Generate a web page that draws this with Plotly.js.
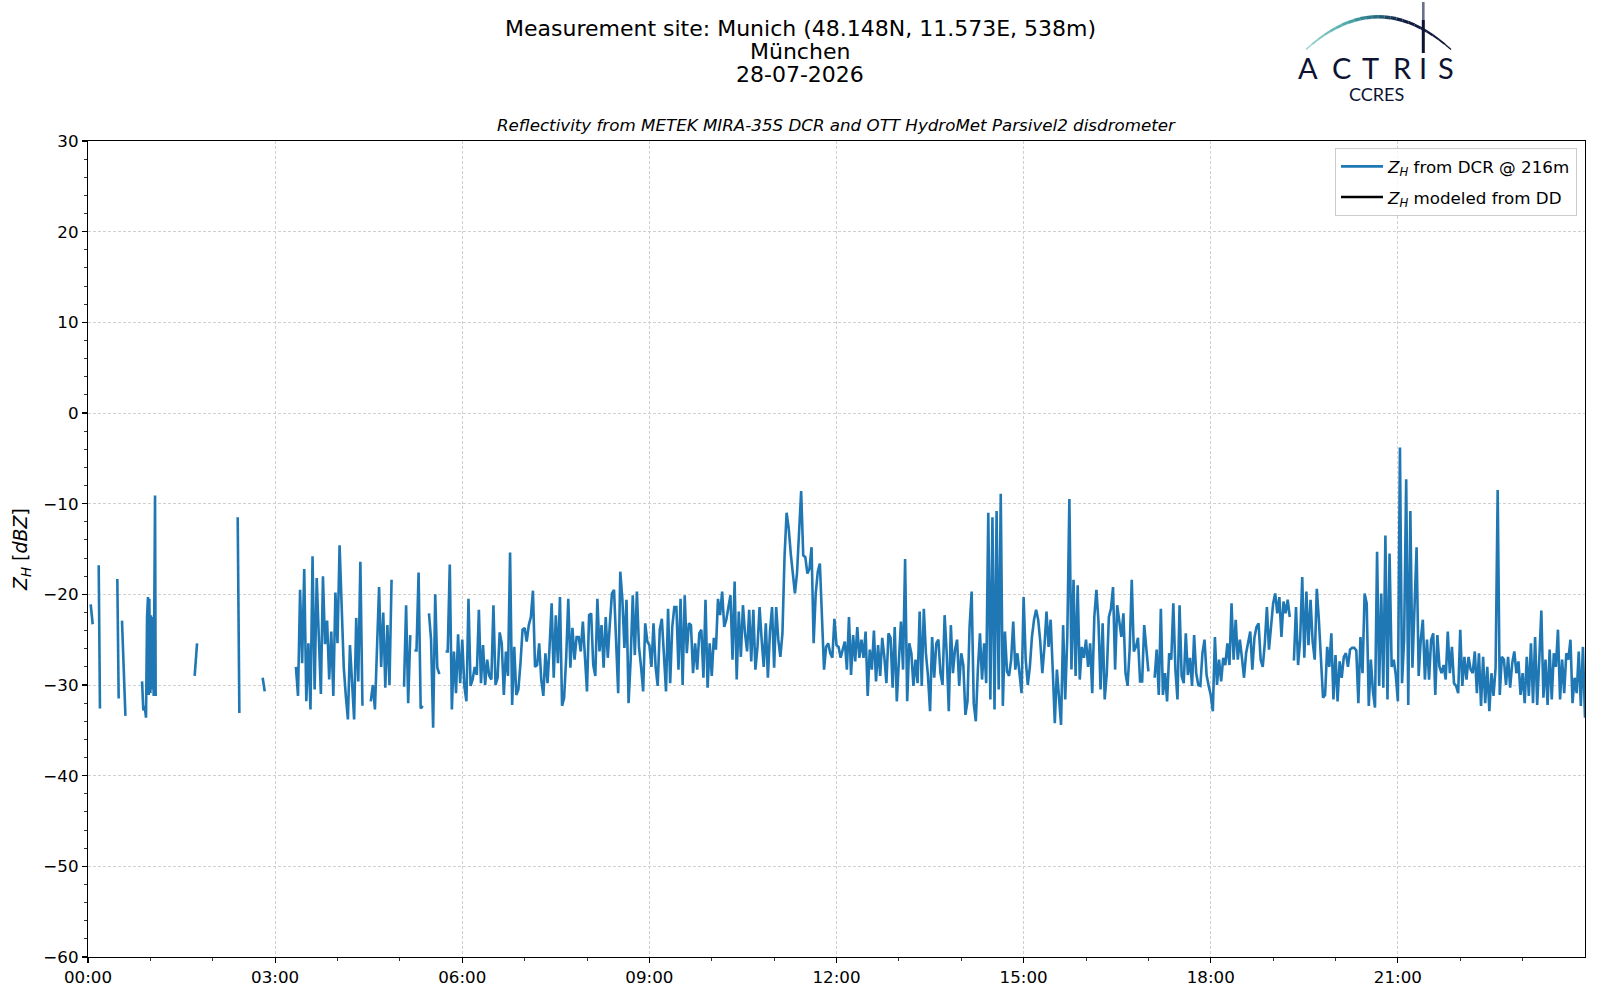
<!DOCTYPE html>
<html><head><meta charset="utf-8">
<script src="https://cdn.plot.ly/plotly-3.0.1.min.js"></script>
<style>html,body{margin:0;padding:0;background:#fff}</style>
</head><body><div id="chart" style="width:1600px;height:1000px"></div>
<script>
// ---- data (minutes of day, reflectivity in dBZ) ----
const earlyMin = [2.6,4.5,7, 10.3,11.5,20, 28.2,29.5,31, 32.7,36,44,
  52,53.2,54.5,55.8,56.8,57.7,58.4,59,60,60.6,61.6,62.2,63.2,64.5,65.1,80,
  102.6,104.9,120, 144,145.6,160, 168,170,185];
const earlyZh = [-21.1,-23.3,null, -16.8,-32.6,null, -18.3,-31.5,null, -22.9,-33.4,null,
  -29.6,-32.8,-32.3,-33.6,-22.5,-20.3,-31.1,-20.5,-30.9,-22.3,-30.5,-22.5,-31.2,-9.1,-31.2,null,
  -29,-25.4,null, -11.5,-33.1,null, -29.2,-30.7,null];

const denseStartMin = 200;
const denseStepMin = 2;
const zh0320 = [-28,-31.2,-19.5,-27.6,-17.2,-31.8,-25.4,-32.7,-15.8,-30.5,
 -18.2,-26,-31,-18,-25.5,-22.9,-29.4,-24.1,-31.2,-19.8,
 -25.4,-14.6,-21.6,-28,-31.2,-33.8,-25.6,-30.1,-33.8,-22.6,
 -29.6,-16.4,-32.3,null,null,null,-31.8,-30,-32.7,-25.5,
 -19.2,-28,-22,-30.3,-23.4,-30,-18.4,null,null,null,
 null,null,-30.2,-21.2,-32,-24.5,null,-26.2,-26.2,-17.6,
 -32.6,-32.3,null,null,-22.1,-25,-34.7,-20,-28.1,-28.8,
 null,null,-26.3,-26.3,-16.7,-32.7,-26.3,-30.9,-24.4,-29.8];
const zh0600 = [-25,-30.1,-31.8,-20.5,-30.1,-29.4,-28,-28.9,-21.7,-29.8,
 -25.6,-30,-27.2,-29,-29.4,-21.2,-30,-29.2,-24.2,-25.4,
 -31.1,-26.3,-29,-15.4,-32.2,-25.8,-31.1,-30.5,-27.6,-23.9,
 -23.7,-25.2,-23.4,-22.5,-19.6,-28,-27.8,-25.4,-29.4,-31.2,
 -26.5,-29.8,-25.8,-21,-29.2,-22.3,-27.6,-20.3,-32.3,-31.4,
 -26.9,-20.5,-28.1,-23.7,-27.2,-24.7,-24.7,-26.3,-23,-26.5,
 -30.7,-22.3,-22.1,-27.8,-29,-20.5,-26.3,-23.4,-28.1,-22.5,
 -27,-23.2,-19.9,-19.5,-26.1,-30.9,-17.5];
const zh0834 = [-20.5,-25.9,-20.6,-32,-27.2,-20.1,-26.7,-19.7,-25.8,-28,
 -30.7,-23.2,-25.2,-25.6,-28,-23.2,-28,-30.1,-23.9,-22.7,
 -26.5,-30.7,-21.6,-29.8,-23.6,-21.4,-21.4,-28.3,-20.5,-30,
 -20.1,-26.5,-23.2,-23.4,-28.7,-25.4,-28.3,-24.3,-23.9,-29.2,
 -20.6,-30.3,-25.4,-29,-24.8,-26.1,-20.5,-22.3,-19.7,-23.6,
 -22.8,-21.5,-20.1,-27.2,-18.6,-29.4,-21.9,-26.9,-21.2,-24.3,
 -26.3,-21.7,-27.4,-21.7,-28.3,-25.8,-21.4,-25,-28,-23.2,
 -29.2,-24.1,-21.4,-28.1,-21.4,-25,-26.9,-24.3];
const zh1110 = [-15.9,-11,-12.7,-15.5,-18.1,-19.9,-17.7,-13,-8.6,-15.7,
 -15.9,-17.7,-17.2,-14.8,-25.4,-19.9,-17.5,-16.6,-22.1,-28.3,
 -25.8,-25.4,-26.5,-27,-22.7,-25.6,-25.8,-27,-26.1,-25.2,
 -28.3,-22.5,-28.9,-24.5,-27.4,-23.6,-27,-25,-27,-24.1,
 -31.2,-26.1,-28.3,-24,-29.6,-25.6,-29,-24.8,-26.9,-29.8,
 -24.3,-24.8,-30.3,-23.6,-31.8,-28,-23,-28.3,-16.1,-31.8,
 -25.4,-26.5,-30.1,-27.2,-29.8,-21.9,-30.1,-21.6,-26.5,-29,
 -32.9,-24.7,-29.2,-25.4,-25,-28.7,-30,-22.3];
const zh1346 = [-26.5,-32.9,-23.4,-28.7,-26.1,-25,-30.1,-26.5,-27.8,-33.3,
 -31.8,-23.6,-19.7,-32,-34,-28.3,-24.3,-29.4,-25.4,-29.8,
 -11,-31.6,-11.5,-32.7,-10.8,-30.5,-8.9,-32.3,-24.1,-28.5,
 -29,-27.2,-23,-28.3,-26.5,-28.7,-30.9,-20.3,-27.2,-30,
 -28,-24.7,-22.8,-21.7,-22.8,-25.2,-28.7,-25.8,-21.9,-25.8,
 -22.8,-28.3,-34.2,-28.3,-31.2,-34.4,-23.4,-31.6,-24.7,-9.5,
 -28.3,-18.4,-29,-19,-29.4,-25.8,-27,-25,-28,-25.4,
 -30.9,-22.5,-19.5,-23,-30.5,-23.2,-31.6,-28.7];
const zh1622 = [-22.5,-21.6,-19.2,-28.3,-21.2,-22.8,-24.7,-22.1,-28.7,-30.1,
 -26.1,-18.4,-26.3,-25.8,-24.8,-29.6,-29.6,-23.4,-26.5,-28.5,
 null,null,-29.2,-26.1,-31.1,-21.6,-31.1,-28.7,-31.8,-26.5,
 -27.2,-21,-28.3,-31.6,-21.2,-29,-29.8,-24.3,-28.9,-27,
 -30.1,-24.5,-28.7,-30,-30.1,-26.5,-25,-28.9,-30.1,-31.1,
 -32.9,-24.7,-30,-27.2,-29.6,-27,-27.8,-25.4,-27.8,-21,
 -27.2,-22.8,-27.2,-25,-27,-29.2,-26.5,-25.2,-24.1,-28.3,
 -24.8,-23.6,-23.2,-27.2,-28,-25.4,-21.4,-26.1];
const zh1858 = [-23,-21,-19.9,-22.1,-20.3,-24.7,-20.8,-22.1,-20.6,-22.5,
 null,-27.3,-21.4,-27.8,-25,-18.1,-27,-19.7,-25.6,-20.6,
 -25.2,-27.2,-19.4,-22.8,-26.7,-31.4,-31.1,-25.8,-28,-24.3,
 -31.6,-26.7,-31.8,-27.4,-29.2,-26.9,-26.5,-28,-26.1,-25.9,
 -25.9,-26.2,-32,-24.7,-28.7,-19.9,-21,-32.3,-27.2,-30.7,
 -32.5,-15.3,-30.1,-19.9,-30.3,-13.5,-31.6,-15.5,-28,-27.2,
 -28.9,-31.8,-3.8,-29.8,-25,-7.3,-32.2,-10.8,-28.1,-21,
 -14.8,-29,-25,-22.8,-29.4,-25,-29.4,-25];
const zh2134 = [-24.3,-31.1,-24.5,-28,-28.7,-27.8,-29.4,-24.1,-28.7,-25.8,
 -29.8,-30.1,-30.9,-23.9,-30.1,-26.9,-29.4,-26.9,-28.3,-28.7,
 -26.3,-30.9,-26.5,-32.3,-26.9,-32,-28,-32.9,-28.7,-31.2,
 -28.1,-8.5,-31.1,-26.9,-27.2,-30,-26.9,-30.3,-27.6,-26.3,
 -28.7,-27.4,-31.1,-28.7,-32,-26.9,-31.2,-25.4,-32,-24.7,
 -32.2,-27.2,-21.8,-31.4,-27.2,-32.2,-26.1,-31.6,-26.5,-28,
 -23.9,-31.6,-27.2,-30.9,-26.5,-27.2,-25,-32,-29.2,-30.9,
 -26.3,-32.3,-25.8,-33.6];

const hourTicks = [0,180,360,540,720,900,1080,1260];
const hourLabels = ['00:00','03:00','06:00','09:00','12:00','15:00','18:00','21:00'];
const minorHourTicks = [60,120,240,300,420,480,600,660,780,840,960,1020,1140,1200,1320,1380];

// ---- assemble series ----
const denseZh = [].concat(zh0320, zh0600, zh0834, zh1110, zh1346, zh1622, zh1858, zh2134);
const denseMin = denseZh.map((_, i) => denseStartMin + denseStepMin * i);
const xAll = earlyMin.concat(denseMin);
const yAll = earlyZh.concat(denseZh);

// ---- geometry helpers (figure px -> paper) ----
const L = 88, R = 1585, T = 141, B = 957;
const fx = X => (X - L) / (R - L);
const fy = Y => (B - Y) / (B - T);
const FONT = 'DejaVu Sans, sans-serif';
const NAVY = '#0d1333';

const traces = [
  {x: xAll, y: yAll, type: 'scatter', mode: 'lines', connectgaps: false,
   line: {color: '#1f77b4', width: 2.6}, legendgroup: 'dcr',
   name: '<i>Z</i><sub><i>H</i></sub> from DCR @ 216m'},
  {x: [null], y: [null], type: 'scatter', mode: 'lines', legendgroup: 'dd',
   line: {color: '#000000', width: 2.6},
   name: '<i>Z</i><sub><i>H</i></sub> modeled from DD'}
];

// logo arc (decoration)
function hexToRgb(h){return [1,3,5].map(i=>parseInt(h.substr(i,2),16));}
const stops = [[0,'#9ad8d2'],[0.3,'#4aa6a8'],[0.5,'#22667a'],[0.65,'#131e45'],[1,NAVY]];
function colAt(t){
  for(let k=0;k<stops.length-1;k++){
    const [t0,c0]=stops[k],[t1,c1]=stops[k+1];
    if(t<=t1){const u=(t-t0)/(t1-t0);const a=hexToRgb(c0),b=hexToRgb(c1);
      return 'rgb('+a.map((v,i)=>Math.round(v+(b[i]-v)*u)).join(',')+')';}
  }
  return NAVY;
}
const A=[1306,49.5], C=[1378,-16], Bp=[1451,49.5];
function qp(t){const m=1-t;return [m*m*A[0]+2*m*t*C[0]+t*t*Bp[0], m*m*A[1]+2*m*t*C[1]+t*t*Bp[1]];}
const shapes=[];
const N=24;
for(let i=0;i<N;i++){
  const t0=i/N,t1=(i+1)/N,p0=qp(t0),p1=qp(t1);
  shapes.push({type:'line',xref:'paper',yref:'paper',x0:fx(p0[0]),y0:fy(p0[1]),x1:fx(p1[0]),y1:fy(p1[1]),
    line:{color:colAt((t0+t1)/2),width:1.2+2.4*Math.sin(Math.PI*(t0+t1)/2)}});
}
shapes.push({type:'line',xref:'paper',yref:'paper',x0:fx(1423.3),y0:fy(2),x1:fx(1423.3),y1:fy(20),line:{color:'#6a6f8a',width:2.6}});
shapes.push({type:'line',xref:'paper',yref:'paper',x0:fx(1423.3),y0:fy(20),x1:fx(1423.3),y1:fy(53),line:{color:NAVY,width:3}});

const annotations = [
  {text:'Measurement site: Munich (48.148N, 11.573E, 538m)', x:fx(800), y:fy(28)},
  {text:'München', x:fx(800), y:fy(51.2)},
  {text:'28-07-2026', x:fx(800), y:fy(74.8)}
].map(a=>Object.assign({xref:'paper',yref:'paper',xanchor:'center',yanchor:'middle',showarrow:false,
   font:{family:FONT,size:22,color:'#000'}},a));
annotations.push({text:'<i>Reflectivity from METEK MIRA-35S DCR and OTT HydroMet Parsivel2 disdrometer</i>',
  xref:'paper',yref:'paper',x:0.5,y:fy(125.5),xanchor:'center',yanchor:'middle',showarrow:false,
  font:{family:FONT,size:16.7,color:'#000'}});
const logoLetters=['A','C','T','R','I','S'], logoX=[1308,1341.5,1370,1402,1423.3,1446];
logoLetters.forEach((ch,i)=>annotations.push({text:ch,xref:'paper',yref:'paper',x:fx(logoX[i]),y:fy(67.5),
  xanchor:'center',yanchor:'middle',showarrow:false,font:{family:'Lato, sans-serif',size:29,color:NAVY}}));
annotations.push({text:'CCRES',xref:'paper',yref:'paper',x:fx(1376.7),y:fy(93.5),xanchor:'center',yanchor:'middle',
  showarrow:false,font:{family:'Lato, sans-serif',size:18,color:NAVY}});

const axisCommon = {
  showline:true, linecolor:'#000', linewidth:1.1, mirror:true,
  ticks:'outside', ticklen:5, tickwidth:1.1, tickcolor:'#000',
  showgrid:true, gridcolor:'#d0d0d0', griddash:'3px,2px', gridwidth:1,
  zeroline:false, tickfont:{family:FONT,size:16.7,color:'#000'}
};

const layout = {
  width:1600, height:1000,
  margin:{l:L, r:1600-R, t:T, b:1000-B, pad:0},
  paper_bgcolor:'#fff', plot_bgcolor:'#fff',
  font:{family:FONT,color:'#000'},
  showlegend:true,
  legend:{x:fx(1577), xanchor:'right', y:fy(148), yanchor:'top',
    bgcolor:'rgba(255,255,255,0.8)', bordercolor:'#cccccc', borderwidth:1,
    font:{family:FONT,size:16.7,color:'#000'}, tracegroupgap:6, itemwidth:42},
  xaxis:Object.assign({}, axisCommon, {
    range:[0,1440], tickmode:'array', tickvals:hourTicks, ticktext:hourLabels,
    minor:{tickmode:'array', tickvals:minorHourTicks, ticks:'outside', ticklen:3, tickwidth:0.8, tickcolor:'#000', showgrid:false}
  }),
  yaxis:Object.assign({}, axisCommon, {
    range:[-60,30], tickmode:'linear', tick0:-60, dtick:10,
    minor:{dtick:2, ticks:'outside', ticklen:3, tickwidth:0.8, tickcolor:'#000', showgrid:false},
    title:{text:'<i>Z</i><sub><i>H</i></sub> [<i>dBZ</i>]', font:{family:FONT,size:19,color:'#000'}, standoff:10}
  }),
  shapes:shapes, annotations:annotations
};

Plotly.newPlot('chart', traces, layout, {staticPlot:true, displayModeBar:false});
</script></body></html>
